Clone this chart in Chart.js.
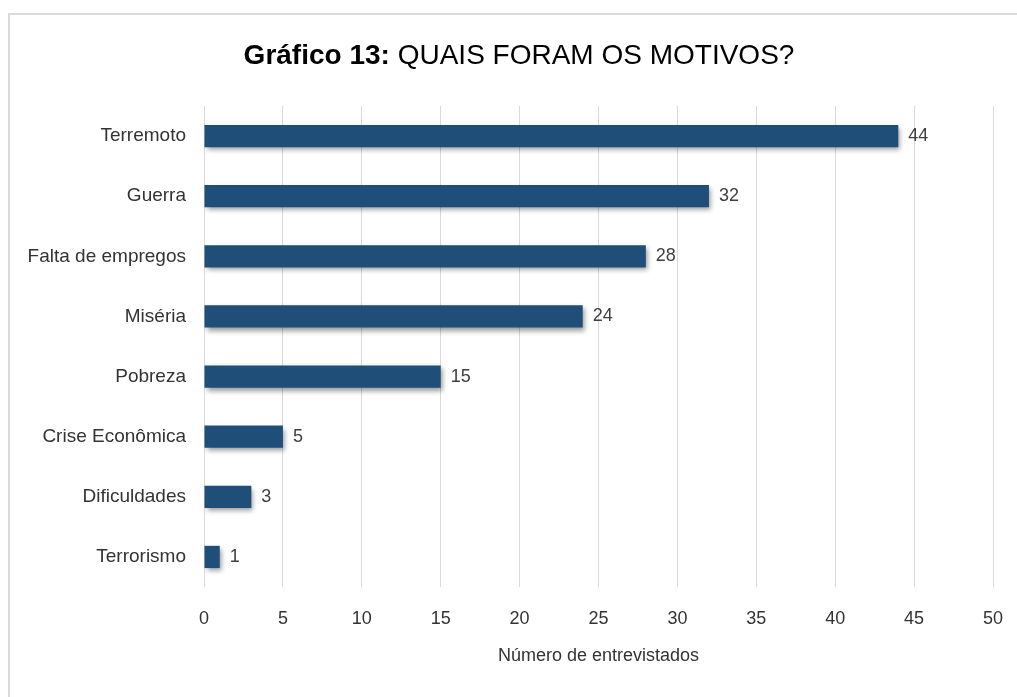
<!DOCTYPE html>
<html>
<head>
<meta charset="utf-8">
<script src="https://cdn.jsdelivr.net/npm/chart.js@4/dist/chart.umd.min.js"></script>
<style>
	html, body { margin: 0; padding: 0; background: #fff; }
	#wrap { position: relative; width: 1017px; height: 697px; overflow: hidden; }
	#frame { position: absolute; left: 8px; top: 13px; width: 1100px; height: 800px; border: 2px solid #dadada; box-sizing: border-box; }
	#title { position: absolute; left: 0; top: 39px; width: 1038px; text-align: center; font-family: 'Liberation Sans', Arial, sans-serif; font-size: 28px; color: #000; white-space: nowrap; }
	#title b { font-weight: bold; }
	#chart { position: absolute; left: 0; top: 0; }
</style>
</head>
<body>
<div id="wrap">
	<div id="frame"></div>
	<canvas id="chart" width="1017" height="697"></canvas>
	<div id="title"><b>Gráfico 13:</b> QUAIS FORAM OS MOTIVOS?</div>
</div>
<script>
var categories = ['Terremoto', 'Guerra', 'Falta de empregos', 'Miséria', 'Pobreza', 'Crise Econômica', 'Dificuldades', 'Terrorismo'];
var values = [44, 32, 28, 24, 15, 5, 3, 1];
var axisTitle = 'Número de entrevistados';
var xMin = 0, xMax = 50, xStep = 5;

var barColor = '#1f4e79';
var textColor = '#333333';
var fontFamily = "'Liberation Sans', Arial, sans-serif";

// bar shadow + value labels
var barExtras = {
	id: 'barExtras',
	beforeDatasetsDraw: function(chart) {
		var ctx = chart.ctx;
		ctx.save();
		ctx.shadowColor = 'rgba(0,0,0,0.4)';
		ctx.shadowBlur = 5;
		ctx.shadowOffsetX = 2;
		ctx.shadowOffsetY = 3;
	},
	afterDatasetsDraw: function(chart) {
		var ctx = chart.ctx;
		ctx.restore();
		ctx.save();
		ctx.font = '18px ' + fontFamily;
		ctx.fillStyle = '#404040';
		ctx.textAlign = 'left';
		ctx.textBaseline = 'middle';
		chart.getDatasetMeta(0).data.forEach(function(bar, i) {
			ctx.fillText(values[i], bar.x + 10, bar.y);
		});
		ctx.restore();
	}
};

var ctx = document.getElementById('chart').getContext('2d');
var chart = new Chart(ctx, {
	type: 'bar',
	data: {
		labels: categories,
		datasets: [{
			data: values,
			backgroundColor: barColor,
			borderWidth: 0,
			categoryPercentage: 1,
			barPercentage: 0.37
		}]
	},
	options: {
		indexAxis: 'y',
		responsive: false,
		animation: false,
		layout: { padding: { top: 106, right: 24, bottom: 26, left: 0 } },
		plugins: {
			legend: { display: false },
			tooltip: { enabled: false }
		},
		scales: {
			x: {
				min: xMin,
				max: xMax,
				border: { display: false },
				grid: { color: '#d9d9d9', lineWidth: 1, drawTicks: false },
				ticks: {
					stepSize: xStep,
					padding: 21,
					color: textColor,
					font: { family: fontFamily, size: 18 }
				},
				title: {
					display: true,
					text: axisTitle,
					color: textColor,
					padding: { top: 21, bottom: 4 },
					font: { family: fontFamily, size: 18 }
				},
				afterFit: function(scale) {
					scale.height = 84;
					scale.paddingLeft = 0;
					scale.paddingRight = 0;
				}
			},
			y: {
				border: { display: false },
				grid: { display: false, drawTicks: false },
				ticks: {
					padding: 18,
					color: textColor,
					font: { family: fontFamily, size: 19 }
				},
				afterFit: function(scale) { scale.width = 204; }
			}
		}
	},
	plugins: [barExtras]
});
</script>
</body>
</html>
